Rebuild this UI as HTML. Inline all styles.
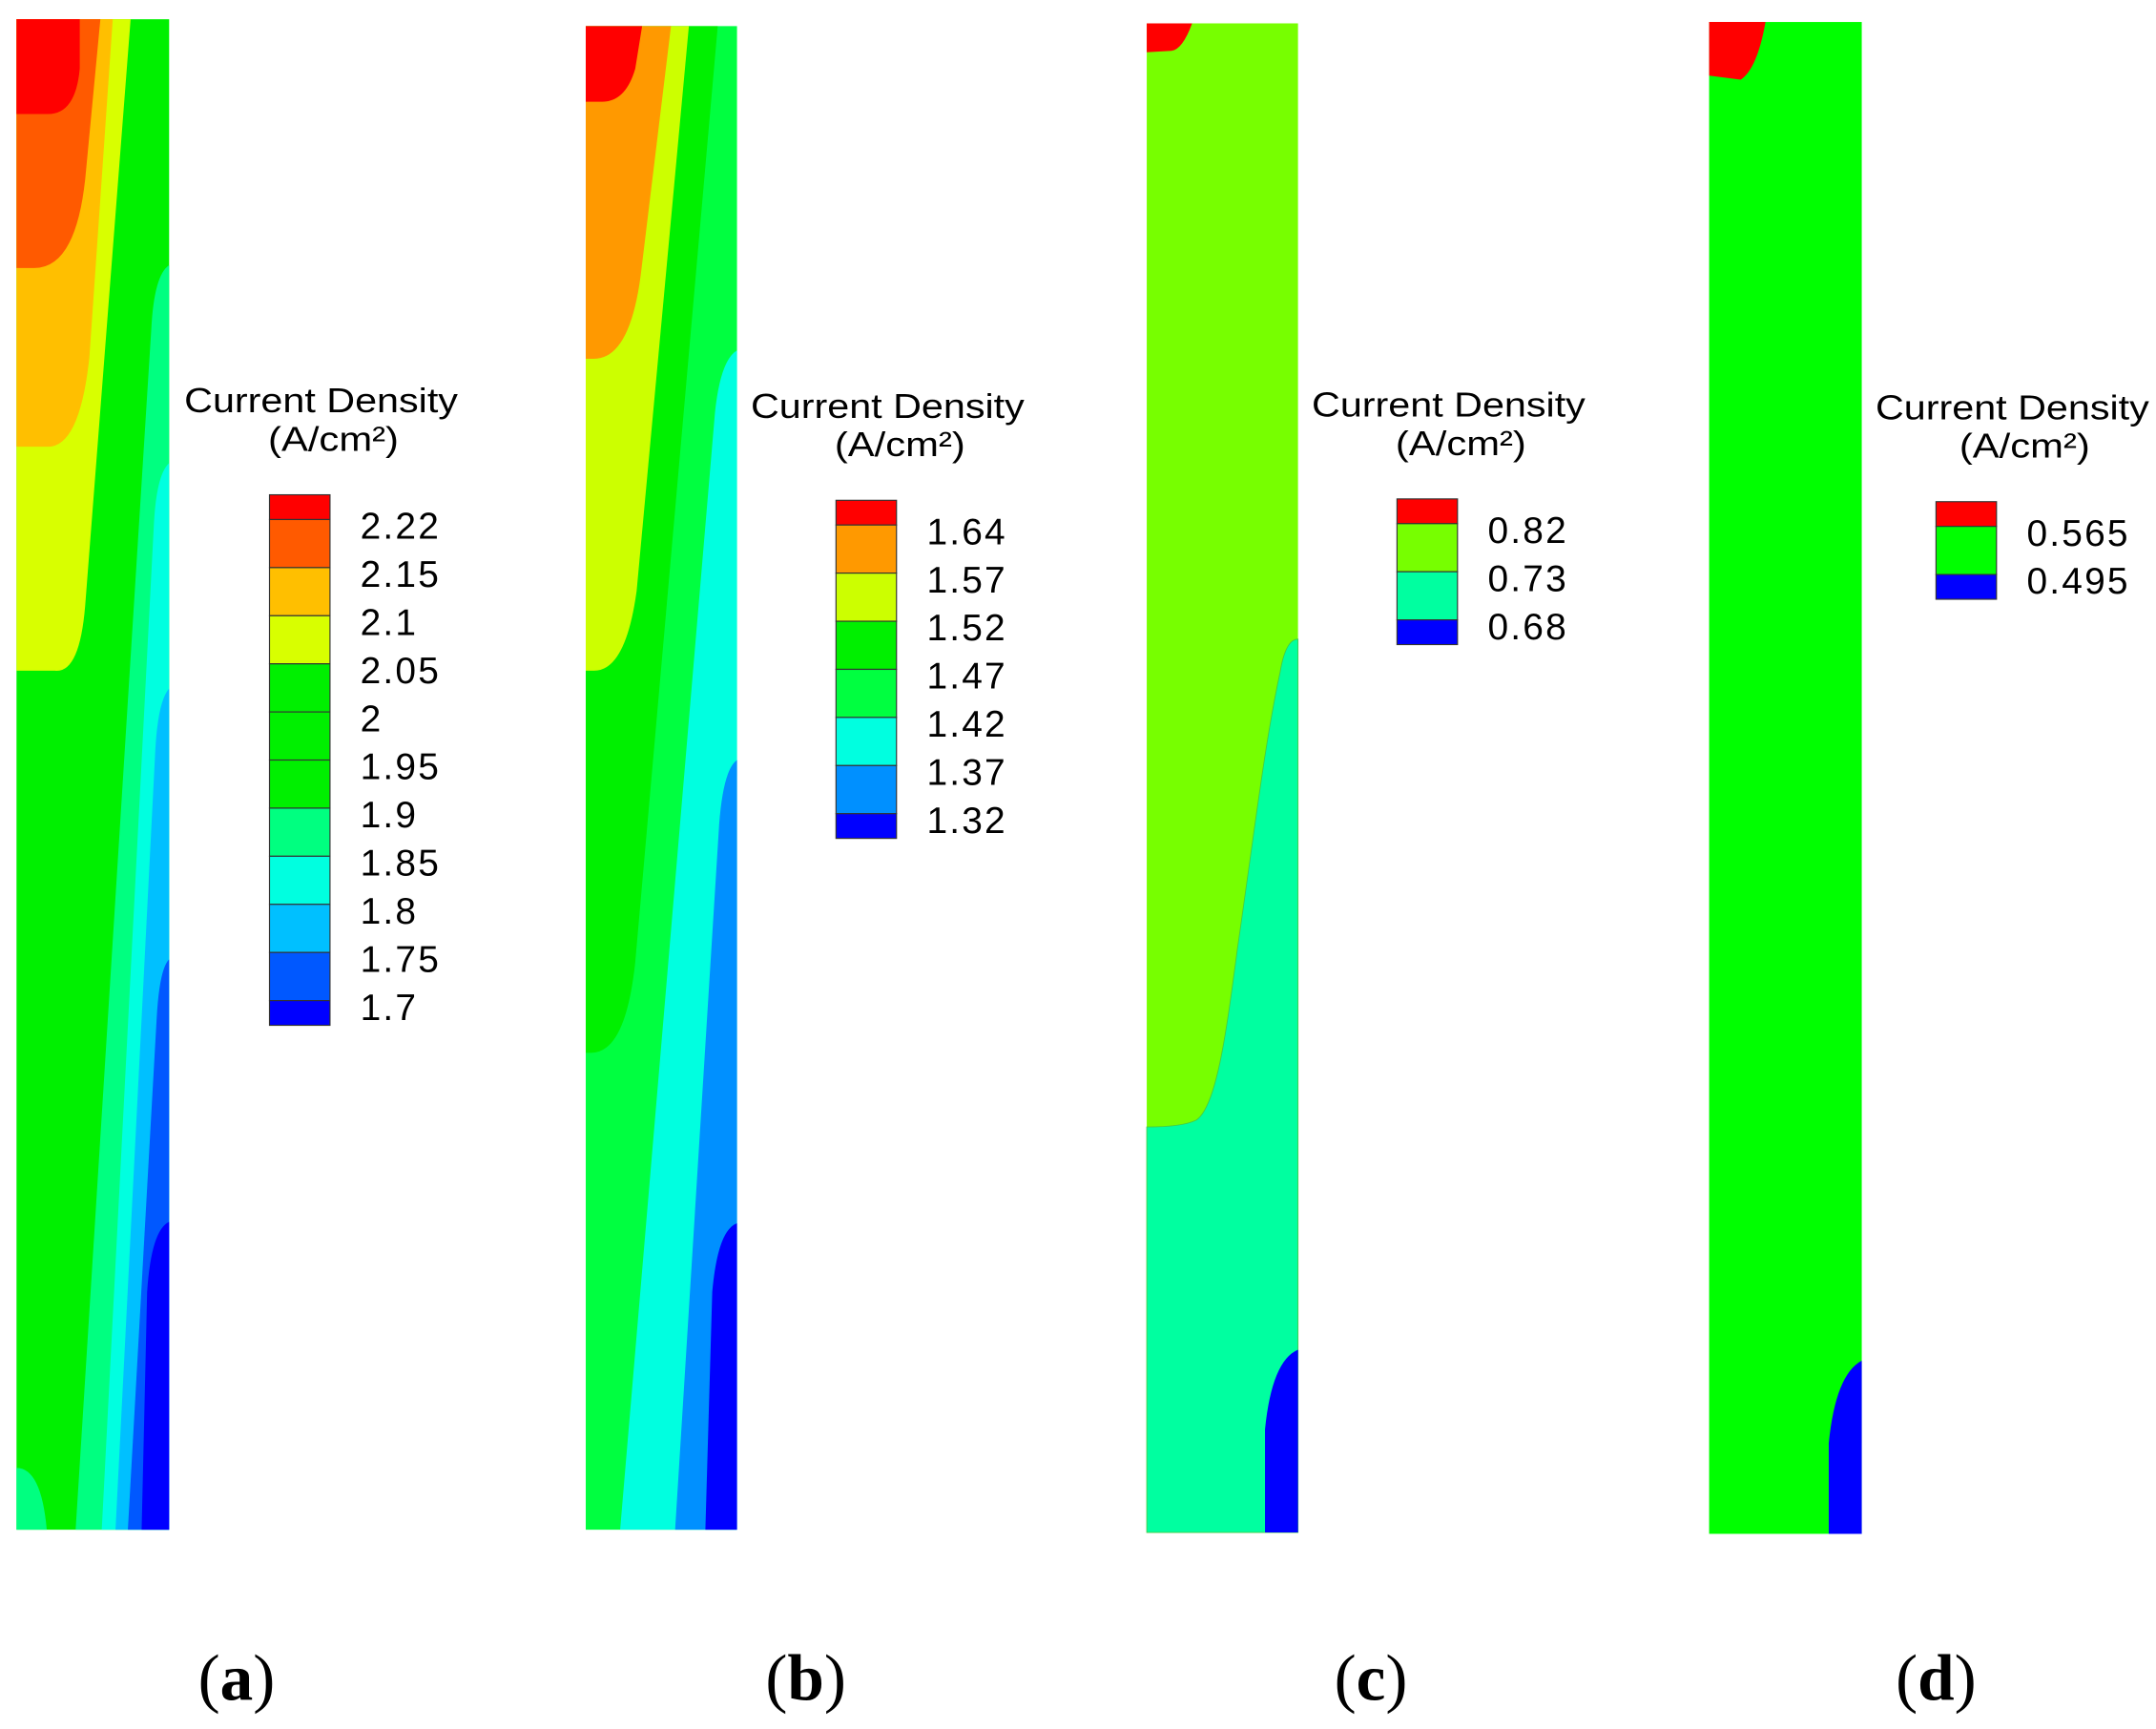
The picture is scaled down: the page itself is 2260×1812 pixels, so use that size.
<!DOCTYPE html>
<html><head><meta charset="utf-8"><style>
html,body{margin:0;padding:0;background:#fff;}
svg{display:block;}
text{font-family:"Liberation Sans",sans-serif;}
</style></head><body>
<svg id="fig" width="2260" height="1812" viewBox="0 0 1568 1258" preserveAspectRatio="none" xmlns="http://www.w3.org/2000/svg">
<rect x="0" y="0" width="1568" height="1258" fill="#fff"/>

<!-- Panel a -->
<g>
  <rect x="12" y="14" width="111" height="1099" fill="#00F000"/>
  <path d="M12,1068 Q30,1068 34,1113 L12,1113 Z" fill="#00FF80"/>
  <path d="M123,193 Q112,200 110,240 L55,1113 L123,1113 Z" fill="#00FF80"/>
  <path d="M123,337 Q114,345 112,380 L74,1113 L123,1113 Z" fill="#00FFE0"/>
  <path d="M123,501 Q115,510 113,545 L84,1113 L123,1113 Z" fill="#00C0FF"/>
  <path d="M123,698 Q116,705 114,740 L93,1113 L123,1113 Z" fill="#0058FF"/>
  <path d="M123,889 Q110,895 107,940 L103,1113 L123,1113 Z" fill="#0000FF"/>
  <path d="M12,14 L95,14 L62,440 Q58,490 40,488 L12,488 Z" fill="#D8FF00"/>
  <path d="M12,14 L82,14 L65,260 Q58,325 35,325 L12,325 Z" fill="#FFBF00"/>
  <path d="M12,14 L73,14 L62,130 Q55,195 25,195 L12,195 Z" fill="#FF5A00"/>
  <path d="M12,14 L58,14 L58,50 Q55,83 35,83 L12,83 Z" fill="#FF0000"/>
</g>

<!-- Panel b -->
<g>
  <rect x="426" y="19" width="110" height="1094" fill="#00FF40"/>
  <path d="M426,19 L522,19 L462,700 Q455,766 430,766 L426,766 Z" fill="#00F000"/>
  <path d="M536,255 Q524,262 520,300 L451,1113 L536,1113 Z" fill="#00FFE0"/>
  <path d="M536,553 Q526,560 523,600 L491,1113 L536,1113 Z" fill="#0090FF"/>
  <path d="M536,890 Q522,895 518,940 L513,1113 L536,1113 Z" fill="#0000FF"/>
  <path d="M426,19 L501,19 L463,430 Q455,488 432,488 L426,488 Z" fill="#CCFF00"/>
  <path d="M426,19 L488,19 L466,200 Q458,261 432,261 L426,261 Z" fill="#FF9900"/>
  <path d="M426,19 L467,19 L462,50 Q455,74 438,74 L426,74 Z" fill="#FF0000"/>
</g>

<!-- Panel c -->
<g>
  <rect x="834" y="17" width="110" height="1098" fill="#77FF00"/>
  <path d="M944,465 Q935,465 931,489 C920,540 913,600 900,690 C892,750 885,805 870,815 Q860,820 834,820 L834,1115 L944,1115 Z" fill="#00FFA0" stroke="#44CC44" stroke-width="0.6"/>
  <path d="M944,982 Q925,990 920,1040 L920,1115 L944,1115 Z" fill="#0000FF"/>
  <path d="M834,17 L867,17 Q860,36 852,37 L834,38 Z" fill="#FF0000"/>
</g>

<!-- Panel d -->
<g>
  <rect x="1243" y="16" width="111" height="1100" fill="#00FF00"/>
  <path d="M1354,990 Q1335,1000 1330,1050 L1330,1116 L1354,1116 Z" fill="#0000FF"/>
  <path d="M1243,16 L1284,16 Q1278,50 1266,58 L1243,55 Z" fill="#FF0000"/>
</g>

<g id="legends"></g>

<g font-size="48" text-anchor="middle">
  <text x="172" y="1237" style="font-family:'Liberation Serif',serif">(<tspan font-weight="bold">a</tspan>)</text>
  <text x="586" y="1237" style="font-family:'Liberation Serif',serif">(<tspan font-weight="bold">b</tspan>)</text>
  <text x="997" y="1237" style="font-family:'Liberation Serif',serif">(<tspan font-weight="bold">c</tspan>)</text>
  <text x="1408" y="1237" style="font-family:'Liberation Serif',serif">(<tspan font-weight="bold">d</tspan>)</text>
</g>
</svg>
<script>
const labelsA = ["2.22","2.15","2.1","2.05","2","1.95","1.9","1.85","1.8","1.75","1.7"];
const colorsA = ["#FF0000","#FF5A00","#FFBF00","#D8FF00","#00F000","#00F000","#00F000","#00FF80","#00FFE0","#00C0FF","#0058FF","#0000FF"];
const labelsB = ["1.64","1.57","1.52","1.47","1.42","1.37","1.32"];
const colorsB = ["#FF0000","#FF9900","#CCFF00","#00F000","#00FF40","#00FFE0","#0090FF","#0000FF"];
const labelsC = ["0.82","0.73","0.68"];
const colorsC = ["#FF0000","#77FF00","#00FFA0","#0000FF"];
const labelsD = ["0.565","0.495"];
const colorsD = ["#FF0000","#00FF00","#0000FF"];

const NS = "http://www.w3.org/2000/svg";
const host = document.getElementById("legends");
function legend(id, cx, barX, barTop, labels, colors) {
  const g = document.createElementNS(NS, "g");
  
  
  const t1 = document.createElementNS(NS, "text");
  
  
  t1.setAttribute("x", cx - 99); t1.setAttribute("y", barTop - 60);
  t1.setAttribute("font-size", "25");
  t1.setAttribute("textLength", "199"); t1.setAttribute("lengthAdjust", "spacingAndGlyphs");
  t1.textContent = "Current Density"; g.appendChild(t1);
  const t2 = document.createElementNS(NS, "text");
  
  
  t2.setAttribute("x", cx - 38); t2.setAttribute("y", barTop - 32);
  t2.setAttribute("font-size", "25");
  t2.setAttribute("textLength", "95"); t2.setAttribute("lengthAdjust", "spacingAndGlyphs");
  t2.textContent = "(A/cm²)"; g.appendChild(t2);
  const step = 35, half = 18;
  let y = barTop;
  for (let i = 0; i < colors.length; i++) {
    const h = (i === 0 || i === colors.length - 1) ? half : step;
    const r = document.createElementNS(NS, "rect");
    
    
    r.setAttribute("x", barX); r.setAttribute("y", y);
    r.setAttribute("width", 44); r.setAttribute("height", h);
    r.setAttribute("fill", colors[i]); r.setAttribute("stroke", "#333"); r.setAttribute("stroke-width", "0.8");
    g.appendChild(r);
    y += h;
  }
  for (let i = 0; i < labels.length; i++) {
    const t = document.createElementNS(NS, "text");
    
    
    t.setAttribute("x", barX + 66); t.setAttribute("y", barTop + half + i * step + 14);
    t.setAttribute("font-size", "27");
    t.setAttribute("letter-spacing", "1.5");
    t.textContent = labels[i]; g.appendChild(t);
  }
  host.appendChild(g);
}
legend("a", 233, 196, 360, labelsA, colorsA);
legend("b", 645, 608, 364, labelsB, colorsB);
legend("c", 1053, 1016, 363, labelsC, colorsC);
legend("d", 1463, 1408, 365, labelsD, colorsD);
</script>
</body></html>
